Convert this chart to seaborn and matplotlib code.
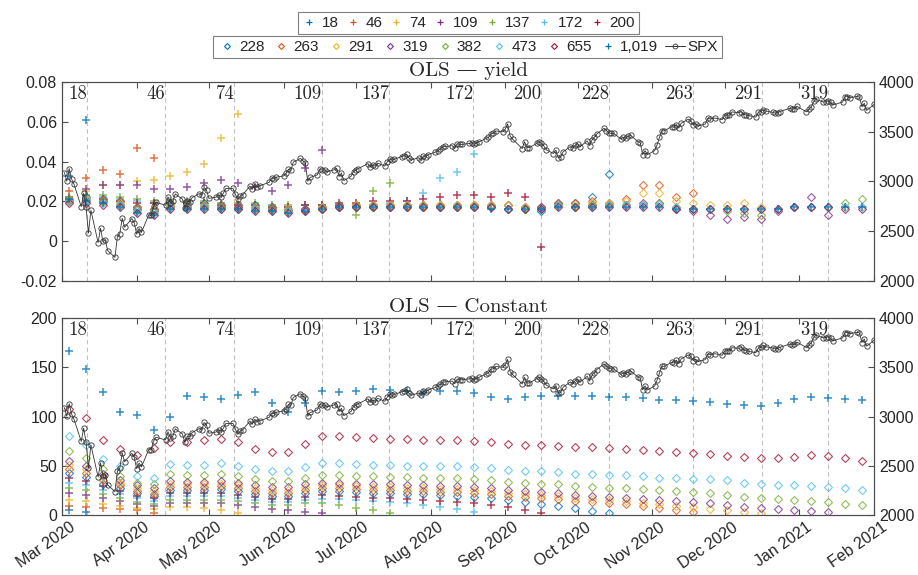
import matplotlib
matplotlib.use("Agg")
import numpy as np
import pandas as pd
import matplotlib.pyplot as plt
import matplotlib.dates as mdates
import matplotlib.transforms as mtransforms
from matplotlib.lines import Line2D
from matplotlib.ticker import FuncFormatter, MultipleLocator
import seaborn as sns

# ---- data -------------------------------------------------------------
holidays = ["2020-04-10", "2020-05-25", "2020-07-03", "2020-09-07",
            "2020-11-26", "2020-12-25", "2021-01-01", "2021-01-18"]
spx_dates = pd.bdate_range("2020-03-02", "2021-02-01")
spx_dates = spx_dates[~spx_dates.isin(pd.to_datetime(holidays))]

spx = [3090, 3003, 3130, 3024, 2972, 2747, 2882, 2741, 2481, 2711, 2386, 2529, 2398, 2409, 2305,
       2237, 2447, 2476, 2630, 2541, 2627, 2585,
       2471, 2527, 2489, 2664, 2660, 2750, 2790, 2762, 2846, 2784, 2800, 2875, 2823, 2737, 2799,
       2798, 2837, 2878, 2863, 2940, 2912,
       2830, 2843, 2868, 2848, 2882, 2930, 2930, 2870, 2820, 2852, 2864, 2954, 2922, 2972, 2949,
       2955, 2992, 3036, 3030, 3044,
       3056, 3081, 3123, 3112, 3194, 3232, 3207, 3190, 3002, 3041, 3067, 3125, 3114, 3116, 3098,
       3118, 3131, 3050, 3084, 3009, 3053, 3100,
       3116, 3130, 3180, 3145, 3169, 3152, 3185, 3155, 3197, 3227, 3215, 3224, 3251, 3257, 3276,
       3236, 3216, 3239, 3218, 3258, 3246, 3271,
       3295, 3306, 3328, 3349, 3352, 3360, 3333, 3380, 3373, 3373, 3382, 3389, 3375, 3385, 3397,
       3431, 3443, 3479, 3485, 3508, 3500,
       3527, 3580, 3455, 3427, 3331, 3399, 3340, 3341, 3383, 3401, 3385, 3357, 3319, 3281, 3315,
       3237, 3246, 3298, 3351, 3335, 3363,
       3381, 3348, 3409, 3361, 3419, 3447, 3477, 3535, 3512, 3489, 3483, 3484, 3427, 3443, 3436,
       3453, 3465, 3401, 3391, 3271, 3310, 3270,
       3310, 3370, 3443, 3510, 3509, 3551, 3545, 3572, 3537, 3585, 3627, 3610, 3568, 3582, 3558,
       3578, 3635, 3629, 3638, 3622,
       3662, 3669, 3666, 3699, 3692, 3702, 3673, 3668, 3663, 3647, 3695, 3702, 3722, 3709, 3695,
       3687, 3690, 3703, 3735, 3727, 3732, 3756,
       3700, 3727, 3748, 3804, 3825, 3799, 3801, 3810, 3795, 3768, 3799, 3852, 3853, 3841, 3855,
       3849, 3751, 3787, 3714,
       3774]

# one reading per week (mid-week), Mar 2020 .. Jan 2021
week_dates = pd.date_range("2020-03-04", periods=48, freq="7D")

maturities = [18, 46, 74, 109, 137, 172, 200, 228, 263, 291, 319, 382, 473, 655, 1019]

yield_18 = [0.033, 0.061]
yield_46 = [0.025, 0.032, 0.036, 0.034, 0.047, 0.042]
yield_74 = [0.022, 0.025, 0.028, 0.028, 0.03, 0.031, 0.033, 0.035, 0.039, 0.052, 0.064]
yield_109 = [0.022, 0.026, 0.028, 0.028, 0.028, 0.026, 0.026, 0.027, 0.029, 0.031, 0.029, 0.027,
             0.025, 0.028, 0.037, 0.046]
yield_137 = [0.022, 0.023, 0.023, 0.022, 0.021, 0.02, 0.02, 0.02, 0.02, 0.019, 0.019, 0.019,
             0.018, 0.018, 0.018, 0.018, 0.018, 0.013, 0.025, 0.029]
yield_172 = [0.021, 0.021, 0.022, 0.021, 0.02, 0.019, 0.019, 0.019, 0.019, 0.019, 0.018, 0.018,
             0.018, 0.017, 0.018, 0.018, 0.018, 0.018, 0.018, 0.019, 0.02, 0.024, 0.032, 0.035, 0.044]
yield_200 = [0.021, 0.021, 0.021, 0.02, 0.019, 0.019, 0.019, 0.019, 0.019, 0.018,
             0.018, 0.018, 0.017, 0.017, 0.018, 0.018, 0.019, 0.019, 0.02, 0.02,
             0.02, 0.021, 0.022, 0.023, 0.023, 0.022, 0.024, 0.022, -0.003]
yield_228 = [0.021, 0.022, 0.021, 0.02, 0.017, 0.016, 0.019, 0.019, 0.019, 0.018,
             0.018, 0.018, 0.017, 0.016, 0.016, 0.017, 0.018, 0.018, 0.018, 0.018,
             0.018, 0.018, 0.018, 0.018, 0.018, 0.018, 0.018, 0.017, 0.015, 0.019,
             0.019, 0.022, 0.034]
yield_263 = [0.021, 0.021, 0.021, 0.02, 0.017, 0.016, 0.018, 0.018, 0.018, 0.018,
             0.018, 0.017, 0.017, 0.016, 0.016, 0.017, 0.018, 0.018, 0.018, 0.018,
             0.018, 0.018, 0.018, 0.018, 0.018, 0.018, 0.018, 0.017, 0.017, 0.019,
             0.019, 0.02, 0.019, 0.021, 0.028, 0.028, 0.022, 0.024]
yield_291 = [0.021, 0.021, 0.02, 0.019, 0.016, 0.015, 0.018, 0.018, 0.018, 0.017,
             0.017, 0.017, 0.016, 0.016, 0.016, 0.017, 0.017, 0.018, 0.018, 0.018,
             0.018, 0.018, 0.018, 0.018, 0.018, 0.018, 0.018, 0.017, 0.017, 0.018,
             0.018, 0.019, 0.019, 0.02, 0.024, 0.024, 0.02, 0.019, 0.018, 0.018,
             0.019, 0.017]
yield_319 = [0.02, 0.02, 0.02, 0.018, 0.016, 0.015, 0.017, 0.017, 0.017, 0.017,
             0.017, 0.016, 0.016, 0.015, 0.016, 0.016, 0.017, 0.017, 0.017, 0.017,
             0.017, 0.017, 0.017, 0.017, 0.017, 0.017, 0.016, 0.016, 0.017, 0.018,
             0.017, 0.018, 0.018, 0.018, 0.019, 0.019, 0.016, 0.015, 0.013, 0.011,
             0.012, 0.011, 0.015, 0.017, 0.022, 0.013]
yield_382 = [0.02, 0.02, 0.02, 0.018, 0.016, 0.015, 0.017, 0.017, 0.017, 0.017,
             0.016, 0.016, 0.016, 0.015, 0.015, 0.016, 0.017, 0.017, 0.017, 0.017,
             0.017, 0.017, 0.017, 0.017, 0.017, 0.017, 0.016, 0.016, 0.016, 0.018,
             0.017, 0.018, 0.018, 0.018, 0.018, 0.019, 0.017, 0.016, 0.016, 0.015,
             0.014, 0.013, 0.016, 0.017, 0.017, 0.017, 0.019, 0.021]
yield_473 = [0.02, 0.02, 0.019, 0.018, 0.015, 0.014, 0.017, 0.017, 0.017, 0.016,
             0.016, 0.016, 0.015, 0.015, 0.015, 0.016, 0.017, 0.017, 0.017, 0.017,
             0.017, 0.017, 0.017, 0.017, 0.017, 0.017, 0.016, 0.016, 0.016, 0.018,
             0.017, 0.017, 0.018, 0.018, 0.018, 0.018, 0.017, 0.016, 0.016, 0.016,
             0.016, 0.016, 0.016, 0.017, 0.017, 0.017, 0.017, 0.017]
yield_655 = [0.019, 0.019, 0.018, 0.017, 0.014, 0.013, 0.016, 0.016, 0.016, 0.016,
             0.016, 0.015, 0.015, 0.014, 0.015, 0.016, 0.017, 0.017, 0.017, 0.017,
             0.017, 0.017, 0.017, 0.017, 0.017, 0.017, 0.016, 0.016, 0.016, 0.017,
             0.017, 0.017, 0.017, 0.017, 0.017, 0.017, 0.016, 0.016, 0.016, 0.016,
             0.016, 0.016, 0.016, 0.017, 0.017, 0.017, 0.016, 0.016]
yield_1019 = [0.021, 0.02, 0.019, 0.017, 0.014, 0.013, 0.016, 0.016, 0.016, 0.016,
              0.016, 0.015, 0.015, 0.014, 0.015, 0.016, 0.017, 0.017, 0.017, 0.017,
              0.017, 0.017, 0.017, 0.017, 0.017, 0.016, 0.016, 0.016, 0.016, 0.017,
              0.017, 0.017, 0.017, 0.017, 0.017, 0.017, 0.016, 0.016, 0.016, 0.016,
              0.016, 0.016, 0.016, 0.017, 0.017, 0.017, 0.017, 0.017]

const_18 = [5, 3]
const_46 = [9, 8, 7, 6, 5, 2]
const_74 = [15, 14, 11, 9, 7, 6, 8, 8, 7, 5, 2]
const_109 = [22, 20, 17, 14, 11, 9, 12, 12, 12, 12, 10, 8, 6, 5, 3, 2]
const_137 = [27, 25, 21, 17, 13, 11, 15, 15, 15, 15, 14, 12, 10, 10, 12, 12, 10, 7, 5, 2]
const_172 = [33, 30, 25, 21, 17, 14, 19, 19, 19, 19, 17, 15, 13, 13, 15, 16, 16, 15, 14, 13,
             12, 10, 8, 6, 3]
const_200 = [38, 35, 29, 24, 19, 17, 22, 22, 22, 22, 20, 18, 16, 16, 18, 20, 19, 18, 17, 17,
             16, 15, 14, 13, 12, 10, 8, 5, 2]
const_228 = [43, 39, 32, 27, 22, 19, 25, 25, 25, 26, 24, 21, 19, 19, 22, 24, 24, 23, 22, 22,
             21, 21, 20, 19, 18, 17, 15, 13, 11, 9, 7, 4, 2]
const_263 = [47, 43, 36, 30, 24, 21, 28, 28, 28, 29, 27, 24, 22, 22, 25, 27, 27, 26, 25, 25,
             24, 24, 23, 23, 22, 21, 19, 18, 17, 16, 14, 13, 12, 11, 9, 7, 5, 3]
const_291 = [51, 47, 39, 33, 27, 24, 31, 31, 31, 32, 30, 27, 25, 25, 28, 30, 30, 29, 28, 28,
             27, 27, 26, 26, 25, 24, 22, 21, 20, 19, 17, 16, 15, 14, 12, 11, 9, 8, 6, 5,
             3, 2]
const_319 = [55, 50, 42, 36, 30, 27, 35, 34, 34, 35, 33, 30, 28, 28, 31, 33, 33, 32, 31, 31,
             30, 30, 29, 29, 28, 27, 25, 24, 23, 22, 20, 19, 18, 17, 16, 15, 14, 13, 12, 10,
             8, 7, 6, 5, 4, 3]
const_382 = [65, 58, 47, 40, 33, 31, 42, 41, 41, 42, 40, 37, 35, 35, 38, 41, 41, 40, 40, 39,
             39, 38, 38, 38, 37, 36, 34, 33, 32, 31, 29, 28, 27, 27, 26, 25, 24, 23, 22, 20,
             18, 17, 16, 15, 14, 13, 11, 10]
const_473 = [80, 71, 57, 50, 40, 38, 52, 51, 51, 53, 50, 47, 45, 45, 49, 53, 53, 52, 51, 51,
             50, 50, 50, 50, 49, 48, 46, 45, 45, 44, 42, 42, 41, 41, 40, 38, 38, 37, 37, 36,
             33, 31, 30, 30, 29, 28, 27, 25]
const_655 = [108, 98, 76, 67, 61, 68, 74, 74, 76, 77, 74, 67, 64, 64, 72, 80, 80, 79, 78, 77,
             77, 76, 76, 76, 75, 74, 72, 71, 71, 70, 69, 69, 68, 67, 66, 65, 64, 63, 62, 60,
             59, 58, 58, 59, 61, 60, 58, 55]
const_1019 = [167, 148, 125, 105, 102, 86, 100, 121, 120, 118, 122, 125, 114, 105, 114, 126,
              125, 126, 128, 127, 126, 124, 126, 126, 124, 120, 118, 120, 121, 121, 121, 121,
              120, 120, 119, 117, 117, 116, 115, 113, 112, 111, 114, 118, 120, 119, 118, 117]

yield_series = [yield_18, yield_46, yield_74, yield_109, yield_137, yield_172, yield_200,
                yield_228, yield_263, yield_291, yield_319, yield_382, yield_473, yield_655,
                yield_1019]
const_series = [const_18, const_46, const_74, const_109, const_137, const_172, const_200,
                const_228, const_263, const_291, const_319, const_382, const_473, const_655,
                const_1019]

# dashed reference lines and their labels
vline_dates = ["2020-03-11 12:00", "2020-04-12 18:00", "2020-05-11 12:00", "2020-06-16 18:00",
               "2020-07-14 18:00", "2020-08-18 18:00", "2020-09-16", "2020-10-14",
               "2020-11-17 18:00", "2020-12-16 12:00", "2021-01-13"]
vline_labels = ["18", "46", "74", "109", "137", "172", "200", "228", "263", "291", "319"]

# ---- style ------------------------------------------------------------
sns.set_style("ticks")
plt.rcParams["font.family"] = ["Liberation Sans", "DejaVu Sans"]
plt.rcParams["font.size"] = 11.5

matlab = ["#0072BD", "#D95319", "#EDB120", "#7E2F8E", "#77AC30", "#4DBEEE", "#A2142F"]
colors = matlab + matlab + [matlab[0]]
markers = ["+"] * 7 + ["D"] * 7 + ["+"]
serif = ["cmr10", "DejaVu Serif"]
axis_col = "#4d4d4d"
spx_col = "#333333"


def draw_series(ax, series):
    for vals, col, mk in zip(series, colors, markers):
        kw = dict(marker=mk, linestyle="", alpha=0.8, markeredgecolor=col)
        if mk == "D":
            kw.update(markersize=3.8, markerfacecolor="none", markeredgewidth=0.8)
        else:
            kw.update(markersize=5.5, markeredgewidth=1.1)
        sns.lineplot(x=week_dates[:len(vals)], y=vals, ax=ax, color=col,
                     errorbar=None, legend=False, **kw)


def draw_spx(ax):
    sns.lineplot(x=spx_dates, y=spx, ax=ax, color=spx_col, linewidth=0.6, marker="o",
                 markersize=3.8, markerfacecolor="none", markeredgecolor=spx_col,
                 markeredgewidth=0.6, errorbar=None, legend=False)
    ax.set_ylim(2000, 4000)
    ax.yaxis.set_major_locator(MultipleLocator(500))
    ax.set_ylabel("")


def style_axes(ax, ax2):
    for a in (ax, ax2):
        for s in a.spines.values():
            s.set_color(axis_col)
            s.set_linewidth(0.8)
    ax.tick_params(direction="in", length=4, color=axis_col, top=True, right=False,
                   labelsize=11.5)
    ax2.tick_params(direction="in", length=4, color=axis_col, labelsize=11.5)
    ax.set_xlim(pd.Timestamp("2020-03-01"), pd.Timestamp("2021-02-01"))
    ax.xaxis.set_major_locator(mdates.MonthLocator())
    ax.xaxis.set_major_formatter(mdates.DateFormatter("%b %Y"))
    ax.set_xlabel("")
    ax.set_ylabel("")
    trans = ax.get_xaxis_transform()
    for d, lab in zip(vline_dates, vline_labels):
        x = pd.Timestamp(d)
        ax.axvline(x, color="#c0c0c0", linestyle=(0, (4, 3)), linewidth=0.8, zorder=0)
        ax.text(x, 0.985, lab, transform=trans, ha="right", va="top",
                family=serif, fontsize=13.5)


fig = plt.figure(figsize=(9.18, 5.75), dpi=100)
ax_top = fig.add_axes([0.0675, 0.5113, 0.8845, 0.3461])
ax_bot = fig.add_axes([0.0675, 0.1043, 0.8845, 0.3426])

# top panel: yield
draw_series(ax_top, yield_series)
ax_top.set_ylim(-0.02, 0.08)
ax_top.yaxis.set_major_locator(MultipleLocator(0.02))
ax_top.yaxis.set_major_formatter(FuncFormatter(lambda v, _: "0" if abs(v) < 1e-9 else f"{v:g}"))
ax_top2 = ax_top.twinx()
draw_spx(ax_top2)
style_axes(ax_top, ax_top2)
ax_top.tick_params(labelbottom=False)
ax_top.set_title("OLS — yield", family=serif, fontsize=15, pad=4)

# bottom panel: constant
draw_series(ax_bot, const_series)
ax_bot.set_ylim(0, 200)
ax_bot.yaxis.set_major_locator(MultipleLocator(50))
ax_bot2 = ax_bot.twinx()
draw_spx(ax_bot2)
style_axes(ax_bot, ax_bot2)
ax_bot.set_title("OLS — Constant", family=serif, fontsize=15, pad=4)
shift = mtransforms.ScaledTranslation(0.07, 0, fig.dpi_scale_trans)
for lbl in ax_bot.get_xticklabels():
    lbl.set_rotation(35)
    lbl.set_ha("right")
    lbl.set_rotation_mode("anchor")
    lbl.set_transform(lbl.get_transform() + shift)

# legends
h1 = [Line2D([], [], marker="+", linestyle="", color=c, markersize=4, markeredgewidth=0.9)
      for c in colors[:7]]
h2 = [Line2D([], [], marker="D", linestyle="", color=c, markerfacecolor="none",
             markersize=3, markeredgewidth=0.8) for c in colors[7:14]]
h2.append(Line2D([], [], marker="+", linestyle="", color=colors[14], markersize=4,
                 markeredgewidth=0.9))
h2.append(Line2D([], [], color=spx_col, linewidth=0.7, marker="o", markersize=3.5,
                 markerfacecolor="none", markeredgewidth=0.6))
lab1 = [f"{m:,}" for m in maturities[:7]]
lab2 = [f"{m:,}" for m in maturities[7:]] + ["SPX"]

leg_kw = dict(frameon=True, fancybox=False, framealpha=1, edgecolor="#808080",
              fontsize=11, borderpad=0.25, borderaxespad=0)
leg1 = fig.legend(h1, lab1, loc="center", bbox_to_anchor=(0.5104, 0.960), ncol=7,
                  handlelength=0.9, handletextpad=0.4, columnspacing=0.45, **leg_kw)
leg2 = fig.legend(h2, lab2, loc="center", bbox_to_anchor=(0.509, 0.918), ncol=9,
                  handlelength=1.3, handletextpad=0.15, columnspacing=0.45, **leg_kw)
for lg in (leg1, leg2):
    lg.get_frame().set_linewidth(0.8)

fig.savefig("out.png", dpi=100)
